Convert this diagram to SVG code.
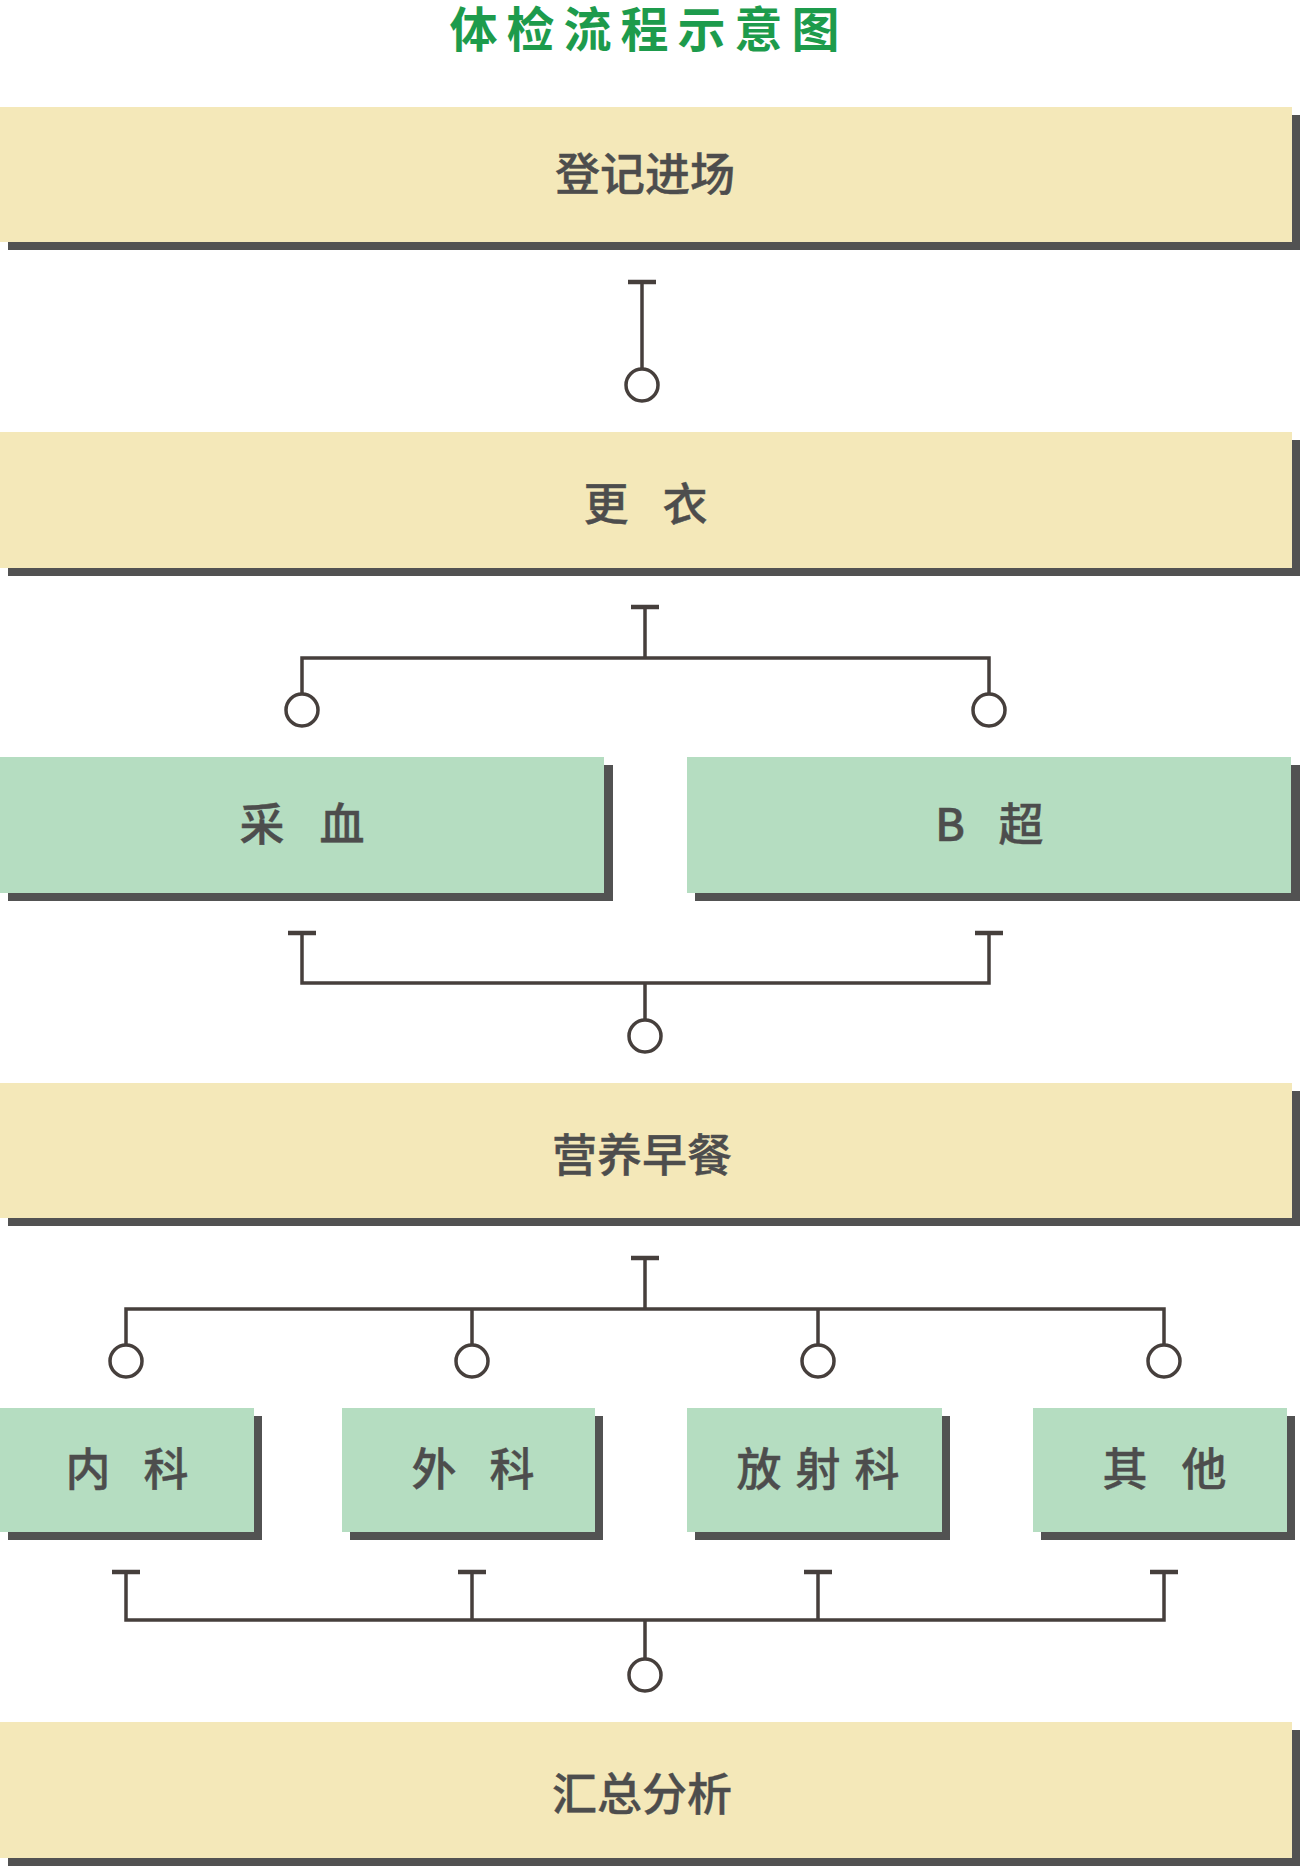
<svg xmlns="http://www.w3.org/2000/svg" width="1300" height="1866" viewBox="0 0 1300 1866">
  <style>
    .shadow { fill: #525252; }
    .yellow { fill: #F4E8B9; }
    .green { fill: #B5DDC1; }
    .label { font-family: "Noto Sans CJK SC", "Liberation Sans", sans-serif; font-size: 45px; font-weight: 500; fill: #4D4D4D; stroke: #4D4D4D; stroke-width: 0.4; text-anchor: middle; dominant-baseline: central; }
    .title { font-family: "Noto Sans CJK SC", "Liberation Sans", sans-serif; font-size: 48px; font-weight: 700; fill: #1D9B4C; text-anchor: middle; dominant-baseline: central; letter-spacing: 9px; }
    .line { fill: none; stroke: #463F3C; stroke-width: 3.5; }
    .bar { fill: none; stroke: #463F3C; stroke-width: 4.5; }
    .dot { fill: #FFFFFF; stroke: #463F3C; stroke-width: 3.5; }
  </style>
  <rect width="1300" height="1866" fill="#FFFFFF"/>

  <g id="title">
    <text class="title" x="649" y="26">体检流程示意图</text>
  </g>

  <g id="node-register">
    <rect class="shadow" x="8" y="115" width="1292" height="135"/>
    <rect class="yellow" x="0" y="107" width="1292" height="135"/>
    <text class="label" x="645" y="171">登记进场</text>
  </g>

  <g id="node-change">
    <rect class="shadow" x="8" y="440" width="1292" height="136"/>
    <rect class="yellow" x="0" y="432" width="1292" height="136"/>
    <text class="label" y="501"><tspan x="606">更</tspan><tspan x="685">衣</tspan></text>
  </g>

  <g id="node-blood">
    <rect class="shadow" x="8" y="765" width="605" height="136"/>
    <rect class="green" x="0" y="757" width="604" height="136"/>
    <text class="label" y="821"><tspan x="262">采</tspan><tspan x="342">血</tspan></text>
  </g>

  <g id="node-bultra">
    <rect class="shadow" x="695" y="765" width="605" height="136"/>
    <rect class="green" x="687" y="757" width="604" height="136"/>
    <text class="label" y="821"><tspan x="950">B</tspan><tspan x="1021">超</tspan></text>
  </g>

  <g id="node-breakfast">
    <rect class="shadow" x="8" y="1091" width="1292" height="135"/>
    <rect class="yellow" x="0" y="1083" width="1292" height="135"/>
    <text class="label" x="642" y="1152">营养早餐</text>
  </g>

  <g id="node-internal">
    <rect class="shadow" x="8" y="1416" width="254" height="124"/>
    <rect class="green" x="0" y="1408" width="254" height="124"/>
    <text class="label" y="1466"><tspan x="88">内</tspan><tspan x="166">科</tspan></text>
  </g>

  <g id="node-surgery">
    <rect class="shadow" x="350" y="1416" width="253" height="124"/>
    <rect class="green" x="342" y="1408" width="253" height="124"/>
    <text class="label" y="1466"><tspan x="434">外</tspan><tspan x="512">科</tspan></text>
  </g>

  <g id="node-radiology">
    <rect class="shadow" x="695" y="1416" width="255" height="124"/>
    <rect class="green" x="687" y="1408" width="255" height="124"/>
    <text class="label" y="1466"><tspan x="759">放</tspan><tspan x="818">射</tspan><tspan x="877">科</tspan></text>
  </g>

  <g id="node-other">
    <rect class="shadow" x="1041" y="1416" width="254" height="124"/>
    <rect class="green" x="1033" y="1408" width="254" height="124"/>
    <text class="label" y="1466"><tspan x="1125">其</tspan><tspan x="1204">他</tspan></text>
  </g>

  <g id="node-summary">
    <rect class="shadow" x="8" y="1730" width="1292" height="136"/>
    <rect class="yellow" x="0" y="1722" width="1292" height="136"/>
    <text class="label" x="642" y="1791">汇总分析</text>
  </g>

  <g id="connectors">
    <!-- register -> change -->
    <line class="bar" x1="628" y1="282" x2="656" y2="282"/>
    <line class="line" x1="642" y1="282" x2="642" y2="369"/>
    <circle class="dot" cx="642" cy="385" r="16"/>

    <!-- change -> blood / B-ultra -->
    <line class="bar" x1="631" y1="607" x2="659" y2="607"/>
    <path class="line" d="M645 607 V658 M302 694 V658 H989 V694"/>
    <circle class="dot" cx="302" cy="710" r="16"/>
    <circle class="dot" cx="989" cy="710" r="16"/>

    <!-- blood / B-ultra -> breakfast -->
    <line class="bar" x1="288" y1="933" x2="316" y2="933"/>
    <line class="bar" x1="975" y1="933" x2="1003" y2="933"/>
    <path class="line" d="M302 933 V983 H989 V933 M645 983 V1020"/>
    <circle class="dot" cx="645" cy="1036" r="16"/>

    <!-- breakfast -> departments -->
    <line class="bar" x1="631" y1="1258" x2="659" y2="1258"/>
    <path class="line" d="M645 1258 V1309 M126 1345 V1309 H1164 V1345 M472 1309 V1345 M818 1309 V1345"/>
    <circle class="dot" cx="126" cy="1361" r="16"/>
    <circle class="dot" cx="472" cy="1361" r="16"/>
    <circle class="dot" cx="818" cy="1361" r="16"/>
    <circle class="dot" cx="1164" cy="1361" r="16"/>

    <!-- departments -> summary -->
    <line class="bar" x1="112" y1="1572" x2="140" y2="1572"/>
    <line class="bar" x1="458" y1="1572" x2="486" y2="1572"/>
    <line class="bar" x1="804" y1="1572" x2="832" y2="1572"/>
    <line class="bar" x1="1150" y1="1572" x2="1178" y2="1572"/>
    <path class="line" d="M126 1572 V1620 H1164 V1572 M472 1572 V1620 M818 1572 V1620 M645 1620 V1659"/>
    <circle class="dot" cx="645" cy="1675" r="16"/>
  </g>
</svg>
